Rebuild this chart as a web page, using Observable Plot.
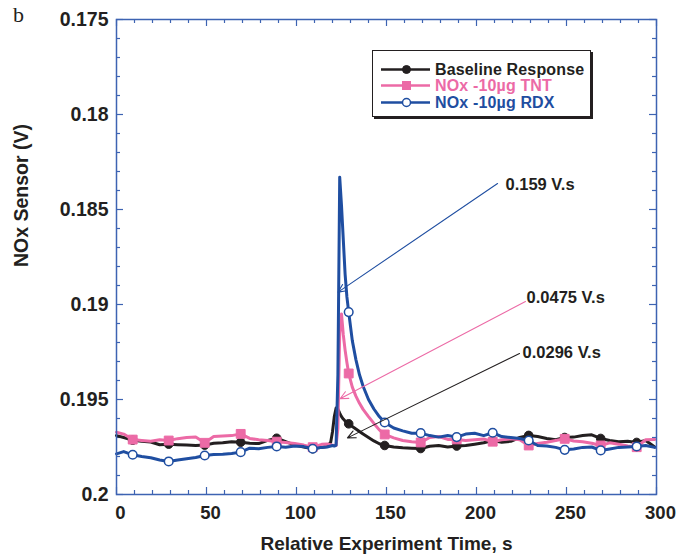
<!DOCTYPE html>
<html><head><meta charset="utf-8">
<script src="https://cdn.jsdelivr.net/npm/d3@7"></script>
<script src="https://cdn.jsdelivr.net/npm/@observablehq/plot@0.6"></script>
<style>
body{margin:0;background:#fff;}
#wrap{position:relative;width:678px;height:555px;font-family:"Liberation Sans",Arial,sans-serif;}
#panel{position:absolute;left:13px;top:2px;font-family:"Liberation Serif","Times New Roman",serif;font-size:22px;color:#231f20;}
#legend{position:absolute;left:372px;top:50px;width:219px;height:67px;border:1px solid #231f20;box-shadow:2px 2px 0 #231f20;background:#fff;box-sizing:border-box;}
.row{position:absolute;left:8px;height:15px;line-height:15px;display:flex;align-items:center;font-weight:bold;font-size:16px;white-space:nowrap;}
.row span{line-height:15px;letter-spacing:0.15px;}
.row svg{margin-right:5px;}
</style></head>
<body><div id="wrap"><div id="chart"></div><div id="panel">b</div><div id="legend"></div></div>
<script>
// time axis (s)
const times = [
  0, 4, 9, 14, 19, 24, 29, 34, 39, 44, 49, 54, 59, 64, 69, 74, 79, 84, 89, 94, 99, 104, 109, 114,
  117, 119, 120, 121, 122, 123, 124, 125, 126, 127, 128, 129,
  131, 133, 135, 137, 140, 143, 146, 149,
  154, 159, 164, 169, 174, 179, 184, 189, 194, 199, 204, 209, 214, 219, 224, 229, 234, 239, 244, 249, 254, 259, 264, 269, 274, 279, 284, 289, 294, 299
];
const baseline = [
  0.19690, 0.19700, 0.19714, 0.19720, 0.19724, 0.19738, 0.19735, 0.19738, 0.19740, 0.19742, 0.19740, 0.19730, 0.19728, 0.19722, 0.19725, 0.19730, 0.19732, 0.19715, 0.19704, 0.19722, 0.19740, 0.19750, 0.19759, 0.19752,
  0.19748, 0.19725, 0.19670, 0.19590, 0.19545, 0.19550, 0.19572, 0.19590, 0.19603, 0.19613, 0.19620, 0.19628,
  0.19642, 0.19655, 0.19668, 0.19682, 0.19700, 0.19718, 0.19733, 0.19742,
  0.19750, 0.19754, 0.19756, 0.19758, 0.19746, 0.19742, 0.19750, 0.19745, 0.19742, 0.19735, 0.19728, 0.19716, 0.19725, 0.19720, 0.19700, 0.19689, 0.19695, 0.19705, 0.19712, 0.19700, 0.19698, 0.19690, 0.19686, 0.19705, 0.19716, 0.19722, 0.19720, 0.19726, 0.19716, 0.19750
];
const tnt = [
  0.19672, 0.19682, 0.19711, 0.19716, 0.19720, 0.19712, 0.19716, 0.19706, 0.19700, 0.19697, 0.19728, 0.19695, 0.19692, 0.19690, 0.19681, 0.19705, 0.19712, 0.19716, 0.19722, 0.19726, 0.19732, 0.19740, 0.19751, 0.19736,
  0.19734, 0.19738, 0.19740, 0.19742, 0.19742, 0.19650, 0.19150, 0.19050, 0.19160, 0.19240, 0.19305, 0.19363,
  0.19435, 0.19482, 0.19520, 0.19552, 0.19590, 0.19626, 0.19660, 0.19684,
  0.19702, 0.19716, 0.19722, 0.19726, 0.19700, 0.19695, 0.19710, 0.19710, 0.19716, 0.19712, 0.19708, 0.19722, 0.19712, 0.19707, 0.19712, 0.19742, 0.19732, 0.19725, 0.19716, 0.19707, 0.19718, 0.19722, 0.19730, 0.19742, 0.19728, 0.19735, 0.19744, 0.19751, 0.19712, 0.19710
];
const rdx = [
  0.19786, 0.19774, 0.19791, 0.19800, 0.19807, 0.19818, 0.19826, 0.19818, 0.19812, 0.19805, 0.19795, 0.19790, 0.19788, 0.19784, 0.19777, 0.19756, 0.19759, 0.19752, 0.19747, 0.19751, 0.19745, 0.19748, 0.19759, 0.19752,
  0.19750, 0.19745, 0.19742, 0.19745, 0.19740, 0.19370, 0.18330, 0.18480, 0.18660, 0.18840, 0.18960, 0.19040,
  0.19190, 0.19290, 0.19370, 0.19430, 0.19500, 0.19550, 0.19590, 0.19621,
  0.19650, 0.19665, 0.19678, 0.19677, 0.19690, 0.19698, 0.19690, 0.19698, 0.19682, 0.19678, 0.19690, 0.19675, 0.19695, 0.19700, 0.19705, 0.19716, 0.19742, 0.19745, 0.19752, 0.19765, 0.19760, 0.19752, 0.19750, 0.19768, 0.19760, 0.19752, 0.19750, 0.19747, 0.19742, 0.19752
];
const markerTimes = [9, 29, 49, 69, 89, 109, 129, 149, 169, 189, 209, 229, 249, 269, 289];

const seriesNames = ["Baseline Response", "NOx -10µg TNT", "NOx -10µg RDX"];
const seriesColors = ["#231f20", "#ec6aa6", "#1f4ea1"];
const seriesSymbols = ["circle", "square", "circle"];
const seriesFills = ["#231f20", "#ec6aa6", "#ffffff"];

const xMajorTicks = [0, 50, 100, 150, 200, 250, 300];
const xTickLabels = ["0", "50", "100", "150", "200", "250", "300"];
const yMajorTicks = [0.175, 0.18, 0.185, 0.19, 0.195, 0.2];
const yTickLabels = ["0.175", "0.18", "0.185", "0.19", "0.195", "0.2"];
const xMinorTicks = d3.range(10, 300, 10).filter(v => v % 50 !== 0);
const yMinorTicks = [0.176,0.177,0.178,0.179,0.181,0.182,0.183,0.184,0.186,0.187,0.188,0.189,0.191,0.192,0.193,0.194,0.196,0.197,0.198,0.199];

const xTitle = "Relative Experiment Time, s";
const yTitle = "NOx Sensor (V)";

// annotations (integrated areas)
const annLabels = ["0.159 V.s", "0.0475 V.s", "0.0296 V.s"];
const annColors = ["#1f4ea1", "#ec6aa6", "#231f20"];
const annFromX = [211.7, 227.2, 223.9];
const annFromY = [0.18363, 0.18984, 0.19258];
const annToX = [123.1, 124.2, 128.3];
const annToY = [0.18935, 0.19496, 0.19702];
const annTextX = [216.1, 227.8, 225.6];
const annTextY = [0.18368, 0.18963, 0.19253];

const seriesValues = [baseline, tnt, rdx];
const axisColor = "#3d63b2";
const W = 678, H = 555, mL = 116, mR = 22, mT = 19, mB = 61;
const pw = W - mL - mR, ph = H - mT - mB;

const marks = [];
seriesValues.forEach((vals, s) => {
  const rows = times.map((t, i) => ({t, v: vals[i]}));
  const mk = rows.filter(r => markerTimes.includes(r.t));
  marks.push(Plot.line(rows, {x: "t", y: "v", stroke: seriesColors[s], strokeWidth: 3, strokeLinejoin: "round"}));
  marks.push(Plot.dot(mk, {x: "t", y: "v", symbol: seriesSymbols[s], r: s === 1 ? 5 : 4.3,
    fill: seriesFills[s], stroke: seriesColors[s], strokeWidth: s === 2 ? 1.5 : 1}));
});
const ann = annLabels.map((_, i) => i);

const chart = Plot.plot({
  width: W, height: H,
  marginLeft: mL, marginRight: mR, marginTop: mT, marginBottom: mB,
  style: {fontFamily: "'Liberation Sans', Arial, sans-serif", color: "#231f20", background: "white", overflow: "visible"},
  x: {domain: [0, 300]},
  y: {domain: [0.175, 0.2], reverse: true},
  marks: [
    Plot.ruleX(xMinorTicks, {stroke: axisColor, strokeWidth: 1.2, insetTop: ph - 4}),
    Plot.ruleX(xMinorTicks, {stroke: axisColor, strokeWidth: 1.2, insetBottom: ph - 4}),
    Plot.ruleX(xMajorTicks, {stroke: axisColor, strokeWidth: 1.2, insetTop: ph - 7}),
    Plot.ruleX(xMajorTicks, {stroke: axisColor, strokeWidth: 1.2, insetBottom: ph - 7}),
    Plot.ruleY(yMinorTicks, {stroke: axisColor, strokeWidth: 1.2, insetRight: pw - 4}),
    Plot.ruleY(yMinorTicks, {stroke: axisColor, strokeWidth: 1.2, insetLeft: pw - 4}),
    Plot.ruleY(yMajorTicks, {stroke: axisColor, strokeWidth: 1.2, insetRight: pw - 7}),
    Plot.ruleY(yMajorTicks, {stroke: axisColor, strokeWidth: 1.2, insetLeft: pw - 7}),
    Plot.axisX(xMajorTicks, {tickSize: 0, tickPadding: 11, dx: 4, label: null, fontSize: 18.5, fontWeight: "bold",
      tickFormat: d => xTickLabels[xMajorTicks.indexOf(d)]}),
    Plot.axisY(yMajorTicks, {tickSize: 0, tickPadding: 8, label: null, fontSize: 19.5, fontWeight: "bold",
      tickFormat: d => yTickLabels[yMajorTicks.indexOf(d)]}),
    Plot.text([xTitle], {frameAnchor: "bottom", dy: 49, fontSize: 19, fontWeight: "bold", lineAnchor: "middle"}),
    Plot.text([yTitle], {frameAnchor: "left", dx: -95, dy: 10, rotate: -90, fontSize: 19.5, fontWeight: "bold", lineAnchor: "middle"}),
    ...marks,
    Plot.arrow(ann, {x1: i => annFromX[i], y1: i => annFromY[i], x2: i => annToX[i], y2: i => annToY[i],
      stroke: i => annColors[i], strokeWidth: 1.1, headLength: 12, headAngle: 50}),
    Plot.text(ann, {x: i => annTextX[i], y: i => annTextY[i], text: i => annLabels[i], textAnchor: "start",
      fontSize: 16.5, fontWeight: "bold", fill: "#231f20"}),
    Plot.frame({stroke: axisColor, strokeWidth: 1.5})
  ]
});
document.getElementById("chart").appendChild(chart);

// legend
const leg = document.getElementById("legend");
const rowTops = [10.5, 27, 43.5];
seriesNames.forEach((name, s) => {
  const row = document.createElement("div");
  row.className = "row";
  row.style.top = rowTops[s] + "px";
  row.style.color = seriesColors[s];
  const c = seriesColors[s];
  let m;
  if (seriesSymbols[s] === "square") m = `<rect x="21" y="2" width="9" height="9" fill="${c}"/>`;
  else m = `<circle cx="25.5" cy="6.5" r="4" fill="${seriesFills[s]}" stroke="${c}" stroke-width="${s===2?1.5:1}"/>`;
  row.innerHTML = `<svg width="49" height="13"><line x1="0" x2="49" y1="6.5" y2="6.5" stroke="${c}" stroke-width="2.5"/>${m}</svg><span></span>`;
  row.querySelector("span").textContent = name;
  leg.appendChild(row);
});
</script></body></html>
